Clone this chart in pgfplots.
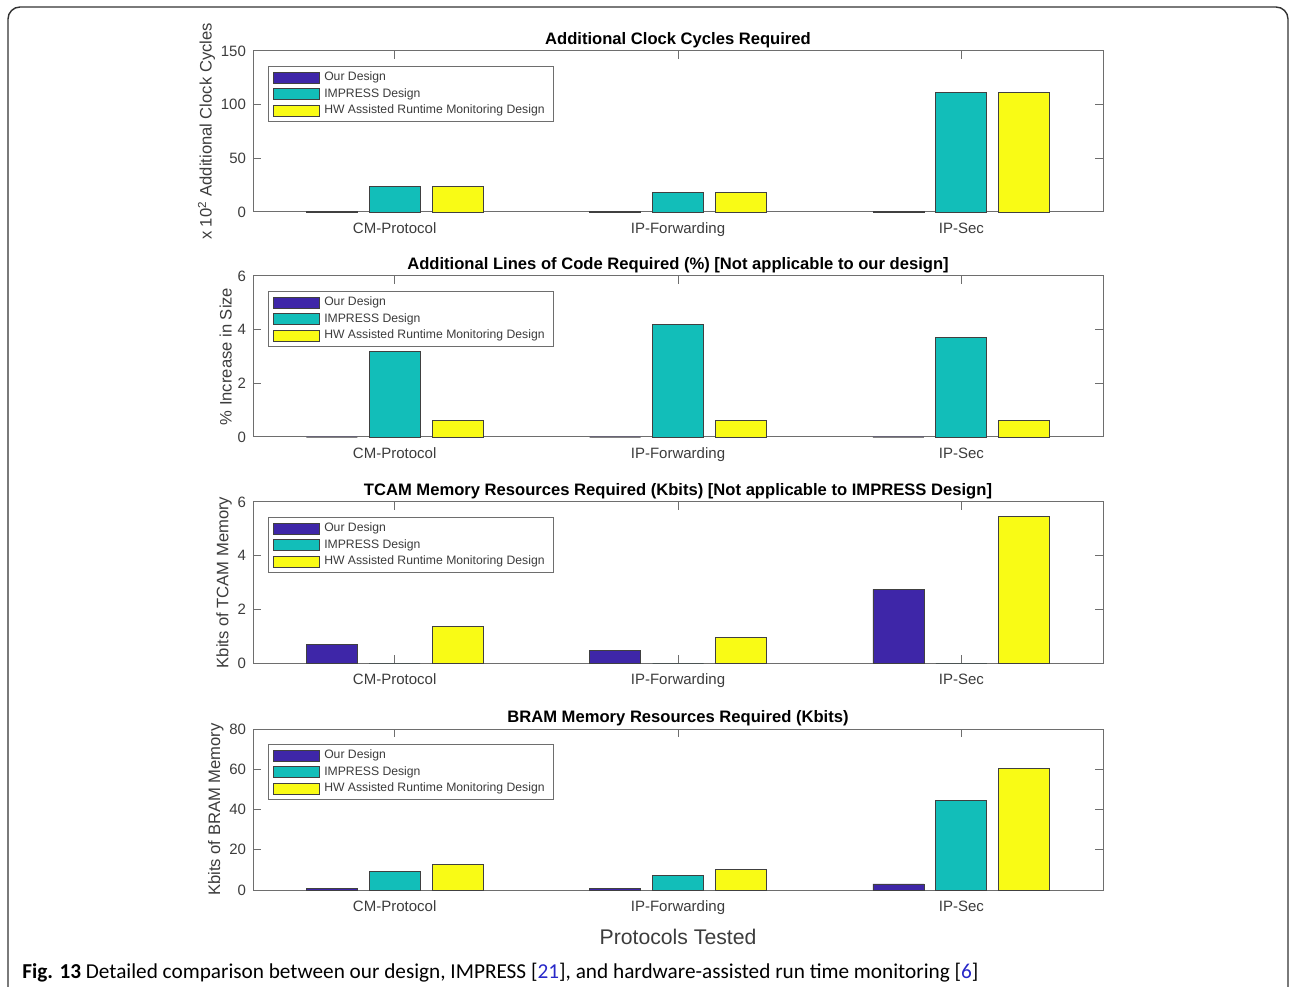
\documentclass[border=0pt]{standalone}
\usepackage{pgfplots}
\pgfplotsset{compat=1.18}
\usepackage{fontspec}
\setmainfont{Liberation Sans}
\newfontfamily\capfont{Carlito}
\definecolor{pblue}{rgb}{0.2422,0.1504,0.6603}
\definecolor{pteal}{rgb}{0.0704,0.7457,0.7258}
\definecolor{pyellow}{rgb}{0.9769,0.9839,0.0805}
\definecolor{axgray}{RGB}{110,110,110}
\definecolor{txtgray}{RGB}{60,60,60}
\definecolor{refblue}{RGB}{40,40,200}

\pgfplotsset{
  mlab/.style={
    scale only axis,
    width=425pt, height=80.5pt,
    anchor=south west,
    xmin=0.5, xmax=3.5, ymin=0,
    xtick={1,2,3},
    xticklabels={CM-Protocol,IP-Forwarding,IP-Sec},
    tick align=inside,
    major tick length=4pt,
    axis line style={axgray, line width=0.5pt},
    every tick/.style={axgray, line width=0.5pt},
    tick label style={font=\fontsize{7.5}{9}\selectfont, text=txtgray},
    xticklabel style={yshift=-2pt},
    /pgf/number format/assume math mode=true,
    label style={font=\fontsize{8.3}{10}\selectfont, text=txtgray},
    ylabel style={yshift=-4pt},
    title style={font=\fontsize{8.3}{10}\selectfont\bfseries, yshift=-8pt},
    legend style={at={(0.0176,0.905)}, anchor=north west, draw=axgray, line width=0.5pt,
      font=\fontsize{6.1}{7}\selectfont, text=txtgray, inner xsep=2.5pt, inner ysep=0.4pt,
      row sep=-1.6pt, cells={anchor=west}},
    legend cell align=left,
    clip=false,
  },
  mbar/.style={ybar, bar width=0.18, bar shift=#1, draw=black!75, line width=0.4pt,
    legend image code/.code={\draw[##1, line width=0.4pt] (0pt,-2.75pt) rectangle (23pt,2.75pt);}},
}

\begin{document}
\begin{tikzpicture}
\useasboundingbox (0pt,0pt) rectangle (645pt,493pt);
\draw[black!80, line width=0.7pt, rounded corners=6pt] (4pt,-10pt) -- (4pt,489.5pt) -- (644pt,489.5pt) -- (644pt,-10pt);

% Panel 1
\begin{axis}[mlab, at={(126.5pt,387pt)}, ymax=150, ytick={0,50,100,150},
  title={Additional Clock Cycles Required},
  ylabel={x 10\textsuperscript{2} Additional Clock Cycles}]
\addplot[mbar=-0.222, fill=pblue] coordinates {(1,0.4) (2,0.3) (3,0.5)};
\addplot[mbar=0, fill=pteal] coordinates {(1,23.5) (2,18) (3,111.5)};
\addplot[mbar=0.222, fill=pyellow] coordinates {(1,23.5) (2,18) (3,111.5)};
\legend{Our Design, IMPRESS Design, HW Assisted Runtime Monitoring Design}
\end{axis}

% Panel 2
\begin{axis}[mlab, at={(126.5pt,274.5pt)}, ymax=6, ytick={0,2,4,6},
  title={Additional Lines of Code Required (\%) [Not applicable to our design]},
  ylabel={\% Increase in Size}]
\addplot[mbar=-0.222, fill=pblue] coordinates {(1,0) (2,0) (3,0)};
\addplot[mbar=0, fill=pteal] coordinates {(1,3.2) (2,4.18) (3,3.7)};
\addplot[mbar=0.222, fill=pyellow] coordinates {(1,0.6) (2,0.6) (3,0.6)};
\legend{Our Design, IMPRESS Design, HW Assisted Runtime Monitoring Design}
\end{axis}

% Panel 3
\begin{axis}[mlab, at={(126.5pt,161.5pt)}, ymax=6, ytick={0,2,4,6},
  title={TCAM Memory Resources Required (Kbits) [Not applicable to IMPRESS Design]},
  ylabel={Kbits of TCAM Memory}]
\addplot[mbar=-0.222, fill=pblue] coordinates {(1,0.69) (2,0.47) (3,2.74)};
\addplot[mbar=0, fill=pteal] coordinates {(1,0) (2,0) (3,0)};
\addplot[mbar=0.222, fill=pyellow] coordinates {(1,1.36) (2,0.96) (3,5.46)};
\legend{Our Design, IMPRESS Design, HW Assisted Runtime Monitoring Design}
\end{axis}

% Panel 4
\begin{axis}[mlab, at={(126.5pt,48pt)}, ymax=80, ytick={0,20,40,60,80},
  title={BRAM Memory Resources Required (Kbits)},
  ylabel={Kbits of BRAM Memory},
  xlabel={Protocols Tested},
  xlabel style={font=\fontsize{10.6}{12}\selectfont, text=txtgray}]
\addplot[mbar=-0.222, fill=pblue] coordinates {(1,0.8) (2,0.6) (3,3)};
\addplot[mbar=0, fill=pteal] coordinates {(1,9.2) (2,7.4) (3,44.3)};
\addplot[mbar=0.222, fill=pyellow] coordinates {(1,12.6) (2,10) (3,60.5)};
\legend{Our Design, IMPRESS Design, HW Assisted Runtime Monitoring Design}
\end{axis}

\node[anchor=base west, inner sep=0pt] at (11pt,4pt) {\resizebox{478pt}{!}{\capfont\fontsize{10}{12}\selectfont\textbf{Fig. 13} Detailed comparison between our design, IMPRESS [\textcolor{refblue}{21}], and hardware-assisted run time monitoring [\textcolor{refblue}{6}]}};
\end{tikzpicture}
\end{document}
